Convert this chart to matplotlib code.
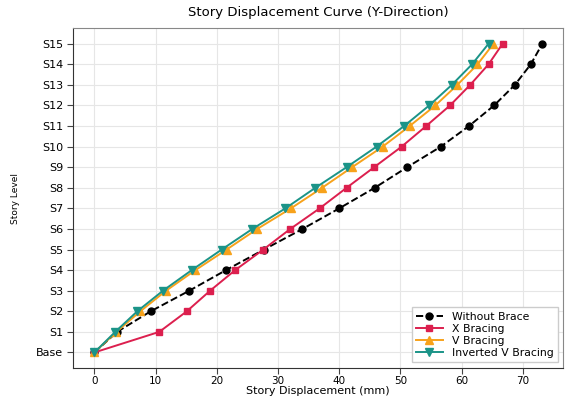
import matplotlib
matplotlib.use("Agg")
import matplotlib.pyplot as plt

# Story levels (Base .. S15)
stories = ["Base"] + ["S%d" % i for i in range(1, 16)]

# Displacements in mm
without_brace = [0, 3.7, 9.2, 15.5, 21.5, 27.7, 34.0, 40.0, 45.8, 51.1,
                 56.6, 61.2, 65.3, 68.7, 71.3, 73.2]
x_bracing = [0, 10.6, 15.1, 18.9, 23.0, 27.6, 32.0, 36.8, 41.2, 45.7,
             50.2, 54.2, 58.1, 61.4, 64.4, 66.7]
v_bracing = [0, 3.6, 7.5, 11.7, 16.5, 21.6, 26.6, 32.1, 37.2, 42.1,
             47.1, 51.5, 55.7, 59.3, 62.6, 65.2]
inv_v_bracing = [0, 3.4, 7.0, 11.2, 15.9, 20.8, 25.8, 31.2, 36.1, 41.2,
                 46.1, 50.6, 54.7, 58.4, 61.7, 64.4]

plt.rcParams['font.family'] = ['DejaVu Sans']

fig = plt.figure(figsize=(5.66, 3.99), dpi=100)
ax = fig.add_axes([0.129, 0.078, 0.866, 0.851])

levels = list(range(len(stories)))

ax.plot(without_brace, levels, color="black", linestyle="--", marker="o",
        markersize=5, linewidth=1.4, label="Without Brace", zorder=3)
ax.plot(x_bracing, levels, color="#DC1F4E", marker="s",
        markersize=5, linewidth=1.4, label="X Bracing", zorder=3)
ax.plot(v_bracing, levels, color="#F7A21B", marker="^",
        markersize=5.5, linewidth=1.4, label="V Bracing", zorder=3)
ax.plot(inv_v_bracing, levels, color="#1B9488", marker="v",
        markersize=5.5, linewidth=1.4, label="Inverted V Bracing", zorder=3)

ax.set_yticks(levels)
ax.set_yticklabels(stories)
ax.set_xticks([0, 10, 20, 30, 40, 50, 60, 70])
ax.set_xlim(-3.5, 76.6)
ax.set_ylim(-0.75, 15.75)

ax.set_title("Story Displacement Curve (Y-Direction)", fontsize=9.5, pad=9)
ax.set_xlabel("Story Displacement (mm)", fontsize=8, labelpad=0)
ax.set_ylabel("Story Level", fontsize=6.5, labelpad=12)
ax.tick_params(labelsize=8, length=4, pad=3, color="#444444")
ax.tick_params(axis="x", labelsize=7.5, pad=2)

ax.grid(True, color="#E6E6E6", linewidth=0.8, zorder=0)
for side in ["left", "bottom"]:
    ax.spines[side].set_color("#333333")
for side in ["top", "right"]:
    ax.spines[side].set_color("#888888")

ax.legend(loc="lower right", fontsize=7.8, frameon=True, framealpha=1,
          edgecolor="#CCCCCC", fancybox=False, handlelength=2.5,
          labelspacing=0.2, borderpad=0.4)

fig.savefig("out.png", dpi=100)
